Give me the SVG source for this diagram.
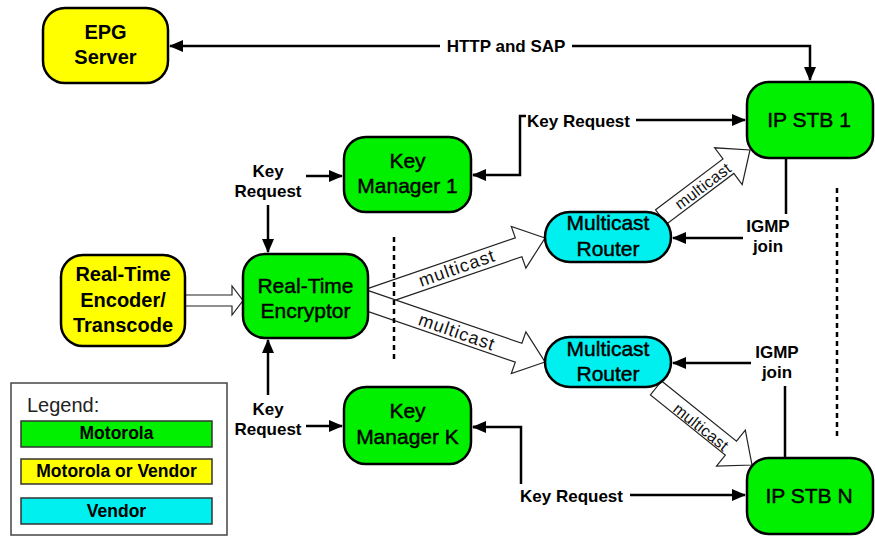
<svg xmlns="http://www.w3.org/2000/svg" width="875" height="536" viewBox="0 0 875 536">
  <defs>
    <marker id="head" markerUnits="userSpaceOnUse" markerWidth="14" markerHeight="12" refX="13" refY="6" orient="auto-start-reverse">
      <path d="M0,0 L14,6 L0,12 z" fill="#000"/>
    </marker>
    <style>
      .node { stroke: #000; stroke-width: 2.5; }
      .green { fill: #00f000; }
      .yellow { fill: #ffff00; }
      .cyan { fill: #00f0f0; }
      .ntxt { font-family: "Liberation Sans", Arial, sans-serif; font-size: 21px; fill: #000; stroke: #000; stroke-width: 0.45; text-anchor: middle; }
      .ytxt { font-family: "Liberation Sans", Arial, sans-serif; font-size: 20px; font-weight: bold; fill: #000; text-anchor: middle; }
      .lbl { font-family: "Liberation Sans", Arial, sans-serif; font-size: 17px; font-weight: bold; fill: #000; }
      .mid { text-anchor: middle; }
      .wire { fill: none; stroke: #000; stroke-width: 2.5; }
      .dash { fill: none; stroke: #000; stroke-width: 2.5; stroke-dasharray: 5 4; }
      .block { fill: #fff; stroke: #222; stroke-width: 1.2; stroke-linejoin: miter; }
      .mc { font-family: "Liberation Sans", Arial, sans-serif; font-size: 18px; fill: #111; text-anchor: middle; letter-spacing: 1px; }
      .mcs { font-family: "Liberation Sans", Arial, sans-serif; font-size: 16px; fill: #111; text-anchor: middle; letter-spacing: 0.3px; }
      .leg { font-family: "Liberation Sans", Arial, sans-serif; font-size: 17.5px; font-weight: bold; fill: #000; text-anchor: middle; }
    </style>
  </defs>

  <!-- wide hollow arrows carrying the multicast streams -->
  <g id="streams">
    <polygon class="block" points="185,295 232,295 232,286 243,300.5 232,315 232,306 185,306"/>
    <polygon class="block" points="361.7,290.6 515.3,237.9 511.3,226.5 545,238 525.9,268.1 521.9,256.7 368.3,309.4"/>
    <text class="mc" transform="translate(457,268) rotate(-19.3)" y="6">multicast</text>
    <polygon class="block" points="368.3,290.6 521.9,343.3 525.9,331.9 545,362 511.3,373.5 515.3,362.1 361.7,309.4"/>
    <text class="mc" transform="translate(457,332) rotate(19.3)" y="6">multicast</text>
    <polygon class="block" points="655.6,209.8 723,159 714.6,147.8 750,150 742.2,184.6 733.8,173.4 666.4,224.2"/>
    <text class="mcs" transform="translate(703,186) rotate(-37)" y="5.5">multicast</text>
    <polygon class="block" points="661.6,381 736.5,441.1 745.3,430.2 752,465 716.5,466 725.3,455.1 650.4,395"/>
    <text class="mcs" transform="translate(701,427) rotate(38.7)" y="5.5">multicast</text>
  </g>

  <!-- signalling connectors -->
  <g id="connectors">
    <path class="wire" d="M170,46 H810 V80" marker-start="url(#head)" marker-end="url(#head)"/>
    <rect x="440" y="34" width="132" height="22" fill="#fff"/>
    <text class="lbl" x="506" y="52" text-anchor="middle">HTTP and SAP</text>

    <path class="wire" d="M473,175 H520 V116 H526"/>
    <path class="wire" d="M473,175 H480" marker-start="url(#head)"/>
    <text class="lbl" x="527" y="127">Key Request</text>
    <path class="wire" d="M636,120 H745" marker-end="url(#head)"/>

    <text class="lbl mid" x="268" y="177">Key</text>
    <text class="lbl mid" x="268" y="197">Request</text>
    <path class="wire" d="M306,176 H342" marker-end="url(#head)"/>
    <path class="wire" d="M268,205 V252" marker-end="url(#head)"/>

    <text class="lbl mid" x="268" y="415">Key</text>
    <text class="lbl mid" x="268" y="435">Request</text>
    <path class="wire" d="M268,395 V340" marker-end="url(#head)"/>
    <path class="wire" d="M306,426 H342" marker-end="url(#head)"/>

    <path class="wire" d="M473,427 H521 V484"/>
    <path class="wire" d="M473,427 H480" marker-start="url(#head)"/>
    <text class="lbl" x="520" y="502">Key Request</text>
    <path class="wire" d="M630,495 H745" marker-end="url(#head)"/>

    <path class="wire" d="M786,158 V214"/>
    <text class="lbl mid" x="768" y="232">IGMP</text>
    <text class="lbl mid" x="768" y="252">join</text>
    <path class="wire" d="M743,238 H673" marker-end="url(#head)"/>

    <text class="lbl mid" x="777" y="358">IGMP</text>
    <text class="lbl mid" x="777" y="378">join</text>
    <path class="wire" d="M751,363 H673" marker-end="url(#head)"/>
    <path class="wire" d="M785,386 V458"/>

    <path class="dash" d="M394,237 V362"/>
    <path class="dash" d="M837,188 V438"/>
  </g>

  <g id="epg-server">
    <rect class="node yellow" x="43" y="8" width="125" height="75" rx="22"/>
    <text class="ytxt" x="105.5" y="39">EPG</text>
    <text class="ytxt" x="105.5" y="64">Server</text>
  </g>

  <g id="encoder">
    <rect class="node yellow" x="61" y="255" width="124" height="91" rx="22"/>
    <text class="ytxt" x="123" y="281">Real-Time</text>
    <text class="ytxt" x="123" y="307">Encoder/</text>
    <text class="ytxt" x="123" y="332">Transcode</text>
  </g>

  <g id="encryptor">
    <rect class="node green" x="243" y="254" width="125" height="84" rx="22"/>
    <text class="ntxt" x="305.5" y="293">Real-Time</text>
    <text class="ntxt" x="305.5" y="318">Encryptor</text>
  </g>

  <g id="key-manager-1">
    <rect class="node green" x="344" y="137" width="127" height="75" rx="22"/>
    <text class="ntxt" x="407.5" y="168">Key</text>
    <text class="ntxt" x="407.5" y="193">Manager 1</text>
  </g>

  <g id="key-manager-k">
    <rect class="node green" x="344" y="387" width="127" height="77" rx="22"/>
    <text class="ntxt" x="407.5" y="418">Key</text>
    <text class="ntxt" x="407.5" y="444">Manager K</text>
  </g>

  <g id="router-1">
    <rect class="node cyan" x="545" y="212" width="126" height="50" rx="25"/>
    <text class="ntxt" x="608" y="230">Multicast</text>
    <text class="ntxt" x="608" y="256">Router</text>
  </g>

  <g id="router-2">
    <rect class="node cyan" x="545" y="337" width="126" height="50" rx="25"/>
    <text class="ntxt" x="608" y="356">Multicast</text>
    <text class="ntxt" x="608" y="381">Router</text>
  </g>

  <g id="ip-stb-1">
    <rect class="node green" x="747" y="82" width="126" height="76" rx="22"/>
    <text class="ntxt" x="809" y="127">IP STB 1</text>
  </g>

  <g id="ip-stb-n">
    <rect class="node green" x="747" y="458" width="126" height="76" rx="22"/>
    <text class="ntxt" x="809" y="503">IP STB N</text>
  </g>

  <g id="legend">
    <rect x="11" y="383" width="216" height="152" fill="#fff" stroke="#444" stroke-width="1.5"/>
    <text x="27" y="412" font-family="Liberation Sans, Arial, sans-serif" font-size="20" fill="#222">Legend:</text>
    <rect class="green" x="21" y="421" width="191" height="26" stroke="#333" stroke-width="1.5"/>
    <text class="leg" x="116.5" y="439">Motorola</text>
    <rect class="yellow" x="21" y="459" width="191" height="25" stroke="#333" stroke-width="1.5"/>
    <text class="leg" x="116.5" y="477">Motorola or Vendor</text>
    <rect class="cyan" x="21" y="498" width="191" height="26" stroke="#333" stroke-width="1.5"/>
    <text class="leg" x="116.5" y="517">Vendor</text>
  </g>
</svg>
